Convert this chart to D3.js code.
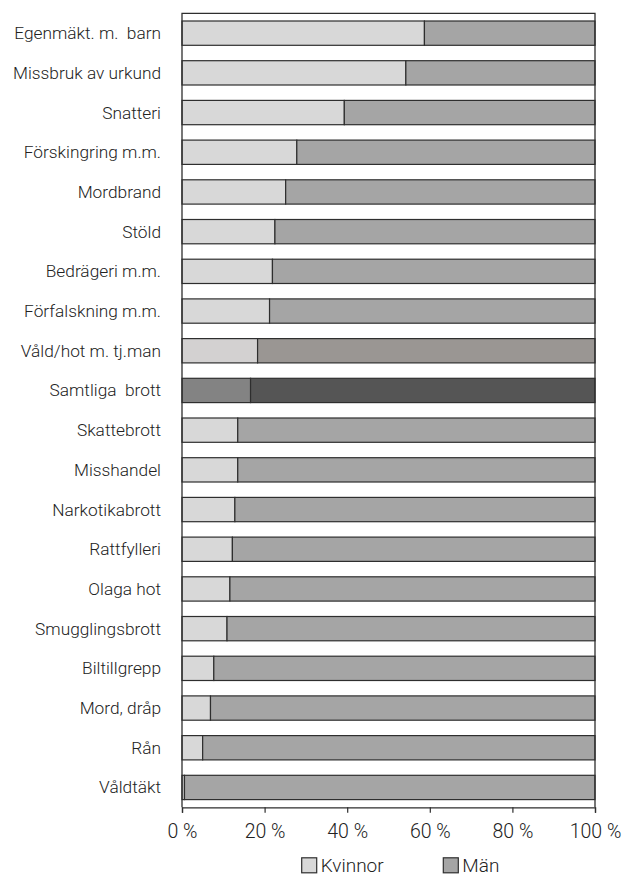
<!DOCTYPE html>
<html>
<head>
<meta charset="utf-8">
<script src="https://cdn.jsdelivr.net/npm/d3@7"></script>
<style>
  html, body { margin: 0; padding: 0; background: #fff; }
  svg { display: block; }
  text { font-family: "Roboto", "Liberation Sans", sans-serif; font-weight: 300; fill: #222; white-space: pre; }
</style>
</head>
<body>
<svg id="chart" width="624" height="876"></svg>
<script>
// Crime categories, top to bottom
const categories = [
  "Egenmäkt. m.  barn", "Missbruk av urkund", "Snatteri", "Förskingring m.m.",
  "Mordbrand", "Stöld", "Bedrägeri m.m.", "Förfalskning m.m.",
  "Våld/hot m. tj.man", "Samtliga  brott", "Skattebrott", "Misshandel",
  "Narkotikabrott", "Rattfylleri", "Olaga hot", "Smugglingsbrott",
  "Biltillgrepp", "Mord, dråp", "Rån", "Våldtäkt"
];
// Share of women (%) per category
const kvinnor = [58.7, 54.2, 39.3, 27.8, 25.1, 22.5, 21.9, 21.2, 18.3, 16.6,
                 13.5, 13.5, 12.8, 12.2, 11.6, 10.9, 7.7, 6.9, 5.0, 0.6];
// Share of men (%) per category
const man = kvinnor.map(v => +(100 - v).toFixed(1));
const seriesNames = ["Kvinnor", "Män"];
const tickValues = [0, 20, 40, 60, 80, 100];

const svg = d3.select("#chart");
const plotLeft = 182, plotRight = 595, plotTop = 13.3, plotBottom = 807.3;

const x = d3.scaleLinear().domain([0, 100]).range([plotLeft, plotRight]);
const y = d3.scaleBand().domain(categories).range([plotTop, plotBottom])
  .paddingInner(0.388).paddingOuter(0.194);

const baseFill = ["#d8d8d8", "#a5a5a5"];
const rowFill = {
  "Våld/hot m. tj.man": ["#d3d1d1", "#9a9693"],
  "Samtliga  brott": ["#838383", "#555555"]
};
const stroke = "#2e2e2e";

const rows = categories.map((c, i) => ({ cat: c, parts: [kvinnor[i], man[i]] }));

// Stacked bars
const g = svg.append("g");
rows.forEach(r => {
  const fills = rowFill[r.cat] || baseFill;
  let acc = 0;
  r.parts.forEach((v, j) => {
    g.append("rect")
      .attr("x", x(acc))
      .attr("y", y(r.cat))
      .attr("width", x(acc + v) - x(acc))
      .attr("height", y.bandwidth())
      .attr("fill", fills[j])
      .attr("stroke", stroke)
      .attr("stroke-width", 1.2);
    acc += v;
  });
});

// Frame: top, left and right edges
svg.append("path")
  .attr("d", `M${plotLeft},${plotBottom}V${plotTop}H${plotRight}V${plotBottom}`)
  .attr("fill", "none").attr("stroke", stroke).attr("stroke-width", 1.3);

// Category labels
svg.append("g").selectAll("text").data(categories).join("text")
  .attr("x", 161)
  .attr("y", d => y(d) + y.bandwidth() / 2 + 6)
  .attr("text-anchor", "end")
  .attr("xml:space", "preserve")
  .style("font-size", "17.3px")
  .text(d => d);

// Bottom axis
const axis = svg.append("g").attr("transform", `translate(0,${plotBottom})`)
  .call(d3.axisBottom(x).tickValues(tickValues).tickSize(5.5).tickPadding(7)
    .tickFormat(d => d + " %"));
axis.select(".domain").attr("stroke", stroke).attr("stroke-width", 1.3);
axis.selectAll(".tick line").attr("stroke", stroke).attr("stroke-width", 1.2);
axis.selectAll(".tick text")
  .attr("dy", null).attr("y", 31)
  .style("font-size", "19.5px")
  .style("font-family", "Roboto, 'Liberation Sans', sans-serif")
  .style("font-weight", 300)
  .attr("fill", "#222");

// Legend
const legendX = [301.7, 443.3];
const legend = svg.append("g");
seriesNames.forEach((name, i) => {
  legend.append("rect")
    .attr("x", legendX[i]).attr("y", 857.8)
    .attr("width", 15).attr("height", 15)
    .attr("fill", baseFill[i]).attr("stroke", stroke).attr("stroke-width", 1.2);
  legend.append("text")
    .attr("x", legendX[i] + 19).attr("y", 871.5)
    .style("font-size", "19px")
    .text(name);
});
</script>
</body>
</html>
